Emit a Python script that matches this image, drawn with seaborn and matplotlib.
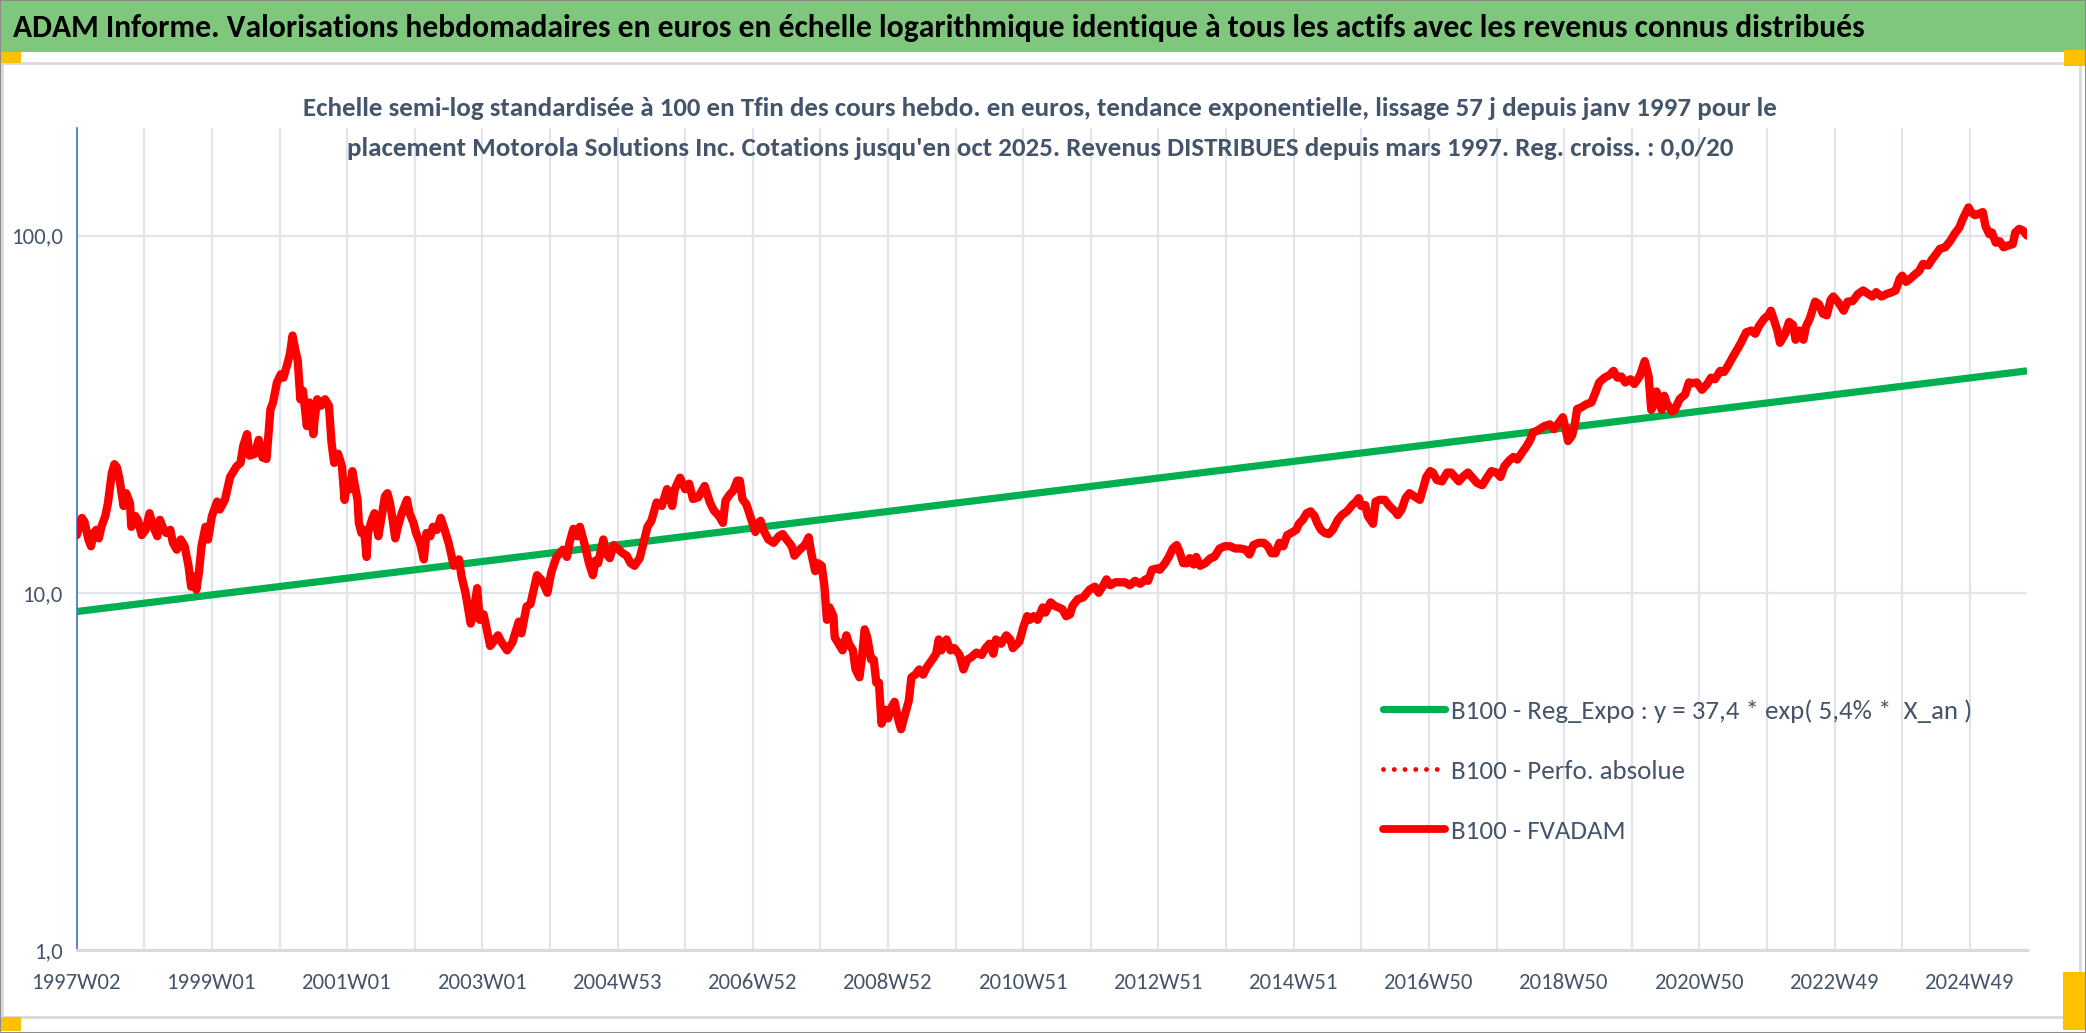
import matplotlib
matplotlib.use("Agg")
import matplotlib.pyplot as plt
import seaborn as sns
import pandas as pd
from matplotlib.patches import Rectangle
from matplotlib.lines import Line2D
from matplotlib import font_manager as fm

# ---------------- data ----------------
x_labels = ["1997W02", "1999W01", "2001W01", "2003W01", "2004W53", "2006W52",
            "2008W52", "2010W51", "2012W51", "2014W51", "2016W50", "2018W50",
            "2020W50", "2022W49", "2024W49"]

red_weeks = [0, 4, 6, 9, 11, 13, 15, 17, 19, 22, 24, 27, 29, 31, 33, 36, 38, 41, 42, 45,
             47, 50, 53, 56, 59, 62, 64, 67, 69, 72, 74, 77, 80, 83, 86, 88, 90, 92, 94, 96,
             99, 101, 104, 108, 110, 114, 118, 123, 126, 128, 131, 133, 137, 140, 143, 146,
             149, 151, 154, 157, 159, 162, 164, 166, 168, 170, 172, 174, 177, 179, 182, 183,
             185, 188, 191, 194, 196, 198, 201, 204, 206, 208, 210, 212, 214, 216, 217, 219,
             221, 223, 224, 227, 229, 232, 235, 237, 239, 241, 243, 245, 247, 250, 254, 256,
             259, 261, 264, 267, 269, 272, 274, 277, 280, 283, 286, 290, 294, 296, 299, 303,
             305, 308, 310, 313, 318, 320, 324, 327, 331, 335, 340, 342, 346, 349, 354, 358,
             362, 365, 369, 374, 377, 379, 382, 385, 387, 391, 394, 397, 399, 401, 405, 407,
             410, 413, 417, 420, 423, 426, 429, 433, 436, 439, 442, 446, 450, 454, 458, 460,
             464, 468, 471, 474, 478, 483, 487, 490, 494, 497, 499, 502, 505, 508, 510, 512,
             515, 518, 522, 523, 526, 528, 532, 536, 540, 543, 546, 550, 552, 556, 560, 563,
             565, 568, 570, 573, 575, 577, 579, 582, 583, 586, 589, 592, 594, 597, 599, 602,
             604, 606, 608, 611, 613, 615, 617, 619, 622, 624, 627, 629, 632, 634, 637, 640,
             642, 645, 648, 651, 654, 658, 661, 663, 665, 669, 672, 675, 679, 682, 685, 688,
             692, 696, 699, 702, 705, 707, 711, 715, 718, 720, 725, 728, 731, 733, 736, 739,
             743, 745, 749, 752, 758, 761, 764, 766, 770, 774, 777, 779, 783, 786, 789, 792,
             795, 799, 802, 806, 810, 814, 818, 822, 824, 827, 831, 833, 837, 840, 843, 846,
             848, 851, 854, 856, 859, 861, 864, 868, 872, 875, 879, 883, 887, 891, 895, 899,
             902, 905, 909, 913, 916, 919, 922, 925, 928, 931, 934, 938, 940, 943, 946, 949,
             952, 954, 957, 960, 963, 966, 970, 973, 977, 981, 984, 986, 988, 991, 993, 997,
             999, 1002, 1006, 1009, 1011, 1014, 1016, 1019, 1022, 1025, 1029, 1033, 1036,
             1038, 1041, 1043, 1046, 1050, 1054, 1057, 1060, 1063, 1066, 1070, 1074, 1077,
             1081, 1085, 1088, 1092, 1095, 1098, 1102, 1105, 1108, 1111, 1115, 1118, 1120,
             1123, 1129, 1133, 1136, 1139, 1143, 1145, 1147, 1150, 1152, 1154, 1157, 1161,
             1165, 1168, 1171, 1175, 1179, 1182, 1185, 1188, 1191, 1195, 1198, 1202, 1206,
             1209, 1211, 1212, 1215, 1217, 1219, 1221, 1223, 1227, 1229, 1233, 1237, 1240,
             1243, 1246, 1250, 1254, 1257, 1260, 1264, 1267, 1270, 1274, 1278, 1280, 1284,
             1288, 1291, 1294, 1298, 1301, 1303, 1305, 1308, 1310, 1314, 1317, 1320, 1322,
             1325, 1328, 1330, 1333, 1337, 1340, 1343, 1346, 1349, 1351, 1355, 1359, 1362,
             1366, 1370, 1374, 1378, 1381, 1384, 1388, 1392, 1396, 1399, 1402, 1404, 1407,
             1410, 1414, 1417, 1420, 1424, 1427, 1430, 1433, 1437, 1441, 1444, 1448, 1450,
             1452, 1455, 1457, 1460, 1463, 1466, 1468, 1471, 1473, 1476, 1479, 1482, 1485,
             1489, 1491, 1494, 1497, 1500]

red_values = [14.5, 16.2, 15.8, 14.1, 13.5, 14.7, 15.0, 14.2, 15.3, 16.4, 17.8, 21.6, 22.9,
              22.4, 20.7, 17.5, 19.0, 17.8, 15.3, 16.4, 16.0, 14.5, 15.0, 16.7, 15.3, 14.4,
              16.0, 15.0, 14.7, 15.0, 13.8, 13.2, 14.1, 13.5, 11.9, 10.4, 11.1, 10.2, 11.4,
              13.5, 15.3, 14.1, 16.4, 18.0, 17.1, 18.2, 21.1, 22.6, 23.1, 25.7, 27.8, 24.2,
              24.5, 26.8, 23.9, 23.7, 32.6, 34.1, 38.8, 40.9, 40.0, 43.7, 46.6, 52.5, 48.1,
              44.7, 34.8, 36.8, 29.3, 34.1, 27.8, 30.6, 34.8, 33.4, 34.8, 33.4, 26.3, 23.1,
              24.5, 22.6, 18.2, 20.3, 19.5, 21.9, 19.9, 18.2, 15.7, 14.7, 15.0, 12.6, 14.7,
              16.0, 16.7, 14.4, 16.7, 18.6, 19.0, 17.8, 16.0, 14.2, 15.3, 16.7, 18.2, 16.7,
              15.7, 14.7, 13.8, 12.4, 14.7, 14.4, 15.3, 15.0, 16.2, 15.0, 13.8, 11.9, 12.4,
              11.1, 10.0, 8.2, 8.7, 10.3, 8.4, 8.7, 7.1, 7.25, 7.6, 7.25, 6.9, 7.25, 8.3,
              7.7, 9.15, 9.3, 11.2, 10.8, 10.0, 11.4, 12.6, 13.2, 12.6, 13.8, 15.1, 14.4,
              15.3, 13.5, 12.1, 11.2, 12.3, 12.1, 14.1, 12.9, 12.5, 13.6, 13.2, 12.9, 12.7,
              12.1, 11.9, 12.5, 13.8, 15.3, 15.9, 17.9, 17.5, 19.5, 17.5, 19.5, 21.0, 19.5,
              20.2, 18.3, 18.5, 19.9, 17.9, 17.0, 16.4, 15.7, 18.1, 18.8, 19.3, 20.6, 20.6,
              18.3, 17.7, 16.4, 14.8, 15.5, 15.9, 15.0, 14.1, 13.8, 14.4, 14.6, 14.1, 13.5,
              12.7, 13.2, 13.6, 14.3, 12.9, 11.5, 12.1, 11.9, 10.5, 8.4, 9.1, 8.6, 7.5, 7.2,
              6.9, 7.6, 7.2, 6.9, 6.1, 5.8, 6.6, 7.9, 7.5, 6.5, 6.5, 5.6, 5.6, 4.3, 4.7,
              4.45, 4.8, 4.95, 4.4, 4.15, 4.55, 5.0, 5.8, 5.9, 6.1, 5.9, 6.2, 6.5, 6.75, 7.4,
              6.9, 7.4, 6.9, 7.0, 6.7, 6.1, 6.5, 6.6, 6.8, 6.7, 7.0, 7.2, 6.75, 7.4, 7.2,
              7.6, 7.4, 7.0, 7.3, 8.0, 8.6, 8.4, 8.6, 8.4, 9.1, 8.8, 9.4, 9.2, 9.0, 8.6,
              8.7, 9.2, 9.6, 9.7, 10.0, 10.2, 10.4, 10.0, 10.4, 10.9, 10.5, 10.7, 10.7, 10.7,
              10.5, 10.8, 10.6, 10.9, 10.8, 11.6, 11.7, 11.6, 12.1, 12.6, 13.3, 13.6, 13.1,
              12.1, 12.1, 12.5, 12.0, 12.6, 11.9, 12.1, 12.5, 12.6, 13.3, 13.5, 13.5, 13.3,
              13.3, 13.2, 12.8, 13.6, 13.8, 13.8, 13.5, 12.9, 12.9, 13.8, 13.5, 14.5, 14.7,
              15.0, 15.6, 16.0, 16.7, 16.9, 16.4, 15.7, 15.0, 14.7, 14.6, 15.0, 16.0, 16.5,
              16.9, 17.6, 18.0, 18.4, 17.5, 17.6, 16.4, 15.6, 18.0, 18.2, 18.2, 17.6, 17.3,
              16.9, 16.5, 17.1, 18.4, 19.0, 18.6, 18.2, 19.9, 21.1, 21.9, 21.7, 20.7, 20.5,
              21.7, 21.7, 21.1, 20.5, 21.1, 21.7, 20.9, 20.3, 20.0, 21.1, 21.9, 21.7, 21.1,
              22.6, 23.5, 24.0, 23.6, 24.5, 25.7, 26.8, 28.1, 28.4, 29.3, 29.6, 28.7, 29.6,
              31.0, 28.9, 26.6, 27.5, 29.3, 32.7, 33.0, 33.7, 34.1, 36.3, 38.8, 40.0, 40.7,
              41.8, 40.0, 40.3, 38.8, 39.6, 38.4, 40.3, 44.5, 40.3, 32.5, 33.0, 36.6, 34.9,
              32.5, 35.6, 33.9, 32.2, 32.5, 34.9, 35.9, 38.8, 38.6, 38.8, 37.0, 38.4, 40.0,
              39.6, 41.8, 41.5, 43.2, 45.9, 48.6, 50.1, 53.6, 54.2, 53.1, 55.9, 58.6, 59.8,
              61.6, 58.6, 54.2, 50.1, 53.1, 57.3, 56.2, 51.1, 54.2, 51.1, 55.6, 58.6, 65.3,
              64.2, 60.4, 59.8, 66.1, 67.5, 64.9, 61.6, 65.3, 65.6, 68.6, 70.2, 68.6, 67.5,
              69.4, 67.5, 68.6, 69.4, 70.2, 75.6, 77.2, 74.2, 75.6, 77.9, 79.5, 83.3, 82.5,
              85.8, 88.6, 91.8, 92.7, 96.6, 100.7, 105.4, 110.0, 114.0, 119.9, 116.3, 114.0,
              115.1, 116.3, 106.5, 100.9, 102.0, 95.5, 96.4, 92.7, 93.7, 94.6, 102.0, 104.4,
              103.2, 100.0]

reg_weeks = [0, 1500]
reg_values = [8.86, 41.8]

legend_labels = ["B100 - Reg_Expo : y = 37,4 * exp( 5,4% *  X_an )",
                 "B100 - Perfo. absolue",
                 "B100 - FVADAM"]

title_text = ("ADAM Informe. Valorisations hebdomadaires en euros en échelle logarithmique "
              "identique à tous les actifs avec les revenus connus distribués")
subtitle_lines = ["Echelle semi-log standardisée à 100 en Tfin des cours hebdo. en euros, tendance "
                  "exponentielle, lissage 57 j depuis janv 1997 pour le",
                  "placement Motorola Solutions Inc. Cotations jusqu'en oct 2025. Revenus "
                  "DISTRIBUES depuis mars 1997. Reg. croiss. : 0,0/20"]
y_tick_labels = ["1,0", "10,0", "100,0"]

# ---------------- style ----------------
sns.set_style("white")
avail = {f.name for f in fm.fontManager.ttflist}
pref = ["Carlito", "Liberation Sans Narrow", "Lato", "Roboto", "Open Sans", "DejaVu Sans"]
main_font = next(f for f in pref if f in avail)
plt.rcParams['font.family'] = [main_font, 'DejaVu Sans']

W, H = 2086, 1033
fig = plt.figure(figsize=(W / 100, H / 100), dpi=100)
fig.patch.set_facecolor("white")
renderer = fig.canvas.get_renderer()

GREEN_BAND = "#80C77E"
YELLOW = "#FFC000"
TXT = "#44546A"
GRID = "#E1E5EB"


def fx(px):
    return px / W


def fy(py):
    return 1 - py / H


def fit_size(text, target_w, weight="normal", fs0=16.0):
    t = fig.text(0, 0, text, fontsize=fs0, fontweight=weight)
    bb = t.get_window_extent(renderer)
    t.remove()
    k = target_w / bb.width
    return fs0 * k, bb.height * k


# decorations
fig.patches.append(Rectangle((0, fy(52)), 1, 52 / H, transform=fig.transFigure,
                             facecolor=GREEN_BAND, edgecolor="none", zorder=0))
fig.patches.append(Rectangle((fx(2), fy(1017)), fx(2078), (1017 - 63) / H,
                             transform=fig.transFigure, facecolor="none",
                             edgecolor="#D9D9D9", lw=2, zorder=1))
for (x0, y0, w, h) in [(0, 52, 21, 11), (2064, 50, 22, 16), (0, 1017, 21, 14), (2063, 972, 23, 58)]:
    fig.patches.append(Rectangle((fx(x0), fy(y0 + h)), w / W, h / H, transform=fig.transFigure,
                                 facecolor=YELLOW, edgecolor="none", zorder=2))
fig.patches.append(Rectangle((0, 0), 1, 1, transform=fig.transFigure, facecolor="none",
                             edgecolor="#8C8C8C", lw=1.5, zorder=3))

fs_title, _ = fit_size(title_text, 1858, "bold")
fig.text(fx(13), fy(28), title_text, ha="left", va="center", fontsize=fs_title,
         fontweight="bold", color="black")

fs_sub, _ = fit_size(subtitle_lines[0], 1472, "bold")
fig.text(fx(1040), fy(108), subtitle_lines[0], ha="center", va="center",
         fontsize=fs_sub, fontweight="bold", color=TXT)
fig.text(fx(1040), fy(148), subtitle_lines[1], ha="center", va="center",
         fontsize=fs_sub, fontweight="bold", color=TXT)

# ---------------- axes ----------------
ax = fig.add_axes([fx(76.7), fy(950), fx(2027 - 76.7), (950 - 128) / H])
ax.set_facecolor("none")

df_red = pd.DataFrame({"week": red_weeks, "value": red_values})
df_reg = pd.DataFrame({"week": reg_weeks, "value": reg_values})

sns.lineplot(data=df_reg, x="week", y="value", ax=ax, color="#00B050", lw=5.2,
             estimator=None, sort=False, solid_capstyle="butt", zorder=3)
sns.lineplot(data=df_red, x="week", y="value", ax=ax, color="#FF0000", lw=6.0,
             estimator=None, sort=False, solid_joinstyle="round", zorder=4)

ax.set_yscale("log")
ax.set_ylim(1, 200)
ax.set_xlim(0, 1500)

ax.set_yticks([1, 10, 100])
ax.set_yticklabels(y_tick_labels)
ax.yaxis.set_minor_locator(matplotlib.ticker.NullLocator())

grid_pos = list(range(0, 1501, 52))
ax.set_xticks(grid_pos)
ax.set_xticklabels([x_labels[i // 2] if i % 2 == 0 else "" for i in range(len(grid_pos))])

ax.grid(True, axis="both", which="major", color=GRID, lw=1.6, zorder=0)
ax.set_axisbelow(True)

for s in ["top", "right"]:
    ax.spines[s].set_visible(False)
ax.spines["left"].set_color("#4472C4")
ax.spines["left"].set_linewidth(1.2)
ax.spines["bottom"].set_color("#D9D9D9")
ax.spines["bottom"].set_linewidth(2.2)

fs_tick, h_tick = fit_size(x_labels[0], 90)
tick_len_px = 7
pad_px = 33 - tick_len_px - h_tick / 2
ax.tick_params(axis="x", length=tick_len_px * 0.72, width=1.5, color="#D9D9D9",
               pad=pad_px * 0.72, labelsize=fs_tick, labelcolor=TXT)
ax.tick_params(axis="y", length=0, pad=13 * 0.72, labelsize=fs_tick, labelcolor=TXT)
ax.set_xlabel("")
ax.set_ylabel("")

# legend
fs_leg, h_leg = fit_size(legend_labels[0], 521)
fs_leg_px = fs_leg * 100 / 72
handles = [Line2D([], [], color="#00B050", lw=5.2, solid_capstyle="round"),
           Line2D([], [], color="#FF0000", lw=3.5, linestyle=(0, (0.01, 2.2)),
                  dash_capstyle="round"),
           Line2D([], [], color="#FF0000", lw=5.6, solid_capstyle="round")]
fig.legend(handles, legend_labels, loc="center left",
           bbox_to_anchor=(fx(1383), fy(771)), frameon=False,
           fontsize=fs_leg, labelcolor=TXT, handlelength=62 / fs_leg_px,
           handletextpad=6 / fs_leg_px, labelspacing=(62 - h_leg) / fs_leg_px,
           borderpad=0, borderaxespad=0)

fig.savefig("out.png", dpi=100, facecolor="white")
